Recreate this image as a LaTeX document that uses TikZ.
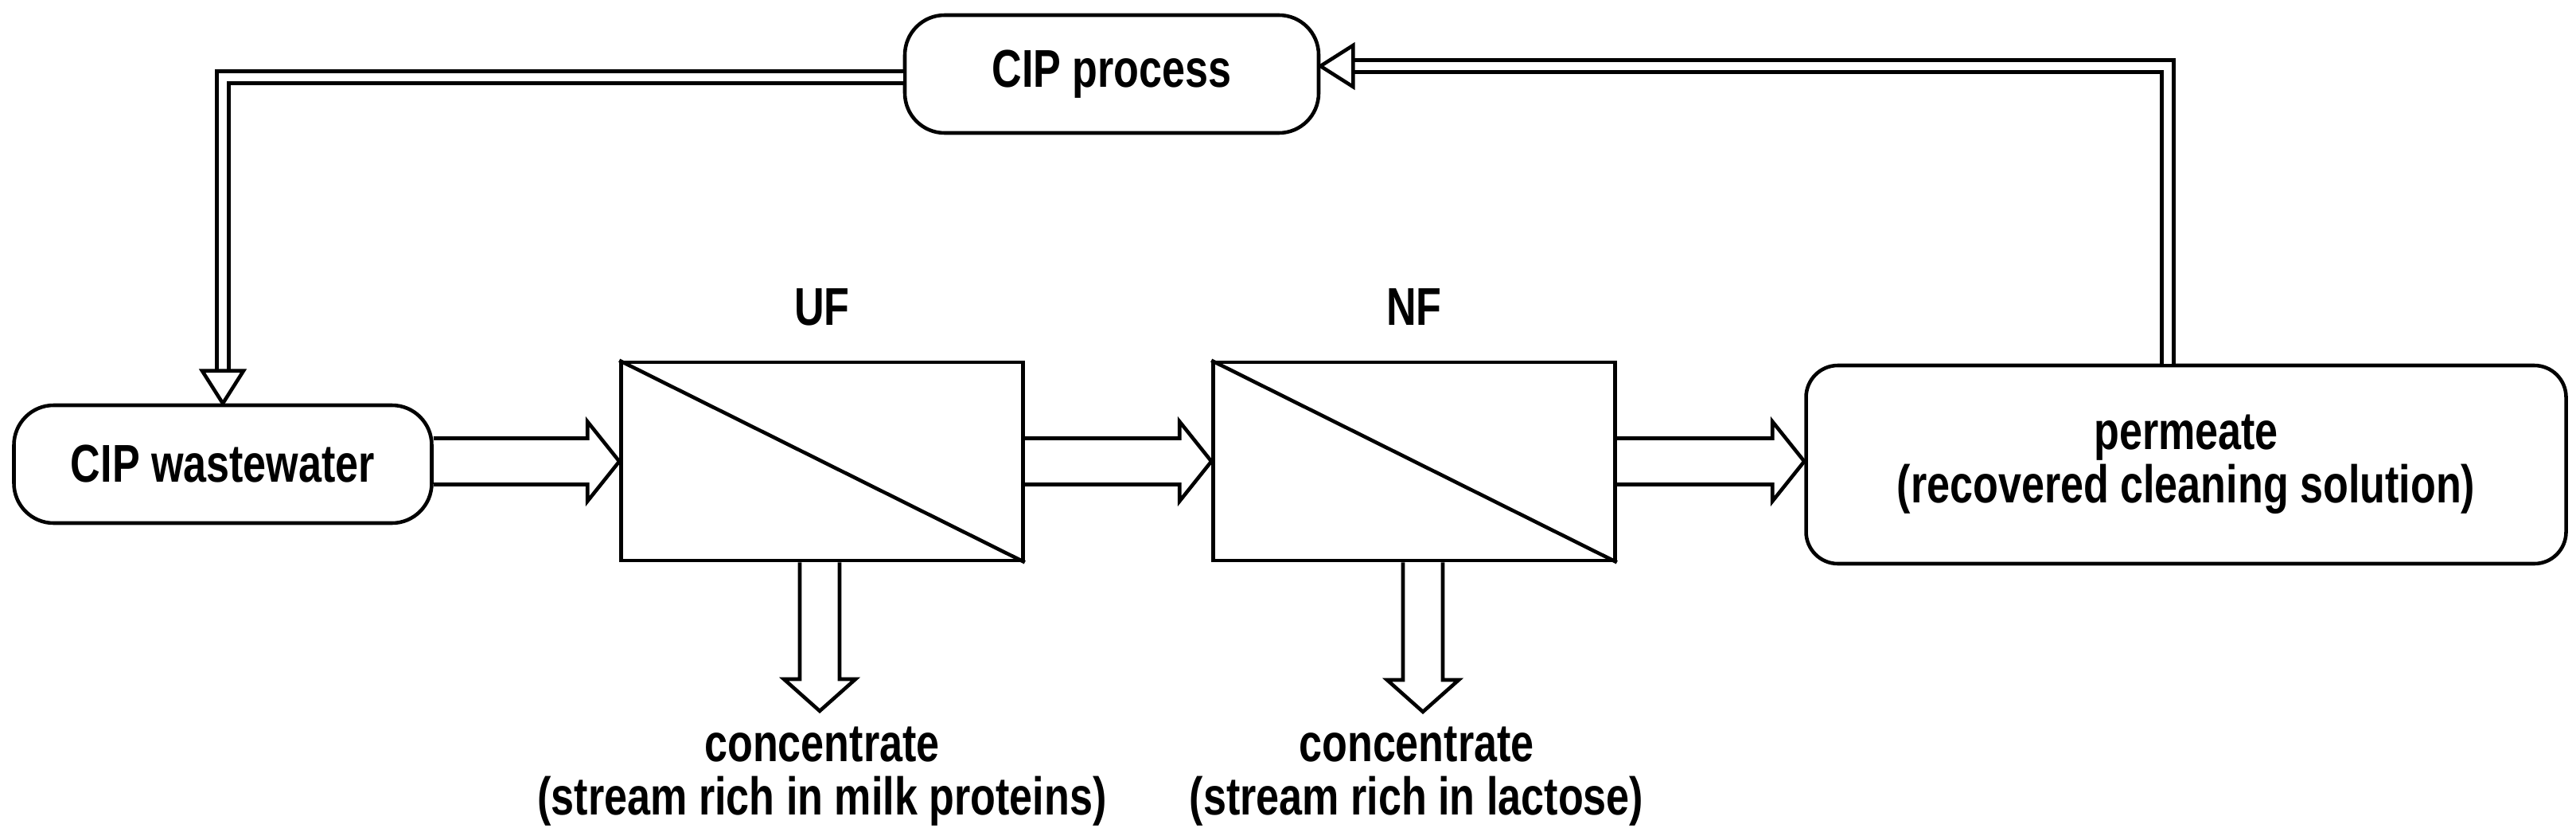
\documentclass[tikz,border=0pt]{standalone}
\usepackage{fontspec}
\setmainfont{Liberation Sans}[FakeStretch=0.78]
\usetikzlibrary{arrows.meta, positioning, calc}

% frecce larghe (contorno) e punte vuote
\newcommand{\hflow}[2]{\draw let \p1=(#1), \p2=(#2) in
	(\x1,\y1+0.29cm) -- (\x2-0.4cm,\y1+0.29cm) -- (\x2-0.4cm,\y1+0.5cm) -- (\x2,\y1)
	-- (\x2-0.4cm,\y1-0.5cm) -- (\x2-0.4cm,\y1-0.29cm) -- (\x1,\y1-0.29cm);}
\newcommand{\dflow}[2]{\draw let \p1=(#1), \p2=(#2) in
	(\x1-0.25cm,\y1) -- (\x1-0.25cm,\y2+0.4cm) -- (\x1-0.45cm,\y2+0.4cm) -- (\x1,\y2)
	-- (\x1+0.45cm,\y2+0.4cm) -- (\x1+0.25cm,\y2+0.4cm) -- (\x1+0.25cm,\y1);}
\newcommand{\hollowtip}[2]{\draw[fill=white, shift={(#1)}, rotate=#2]
	(0,0) -- (-0.41,0.26) -- (-0.41,-0.26) -- cycle;}

\begin{document}
\begin{tikzpicture}[line width=1.3pt,
			font=\bfseries\fontsize{19}{19}\selectfont,
			pill/.style={draw, rounded corners=0.5cm, minimum width=5.2cm, minimum height=1.48cm},
			unit/.style={draw, minimum width=5.05cm, minimum height=2.49cm},
			loop/.style={double, double distance=0.1cm}]
			
			\useasboundingbox (0,0) rectangle (32.37,10.44);
			
			% Nodi
			\node[pill] (proc) at (13.97,9.51) {CIP process};
			\node[pill, minimum width=5.25cm] (waste) at (2.80,4.61) {CIP wastewater};
			\node[unit] (uf) at (10.33,4.645) {};
			\node[unit] (nf) at (17.77,4.645) {};
			\node[draw, rounded corners=0.4cm, minimum width=9.55cm, minimum height=2.49cm, align=center] (perm) at (27.47,4.605) {permeate\\(recovered cleaning solution)};
			\draw (uf.north west) -- (uf.south east);
			\draw (nf.north west) -- (nf.south east);
			
			% Etichette
			\node[above=0.3cm of uf] (uflab) {UF};
			\node[above=0.3cm of nf] (nflab) {NF};
			\node[align=center] (ufconc) at (10.33,0.69) {concentrate\\(stream rich in milk proteins)};
			\node[align=center] (nfconc) at (17.80,0.69) {concentrate\\(stream rich in lactose)};
			\coordinate (ufout) at (10.30,1.51);
			\coordinate (nfout) at (17.88,1.50);
			
			% Flussi principali
			\hflow{waste.east |- uf.west}{uf.west}
			\hflow{uf.east}{nf.west}
			\hflow{nf.east |- uf.east}{perm.west |- uf.east}
			\dflow{uf.south -| ufout}{ufout}
			\dflow{nf.south -| nfout}{nfout}
			
			% Ricircolo
			\coordinate (backin) at ($(proc.east |- 0,9.61)+(0.41,0)$);
			\coordinate (downin) at ($(waste.north)+(0,0.41)$);
			\draw[loop] (perm.north -| 27.24,0) |- (backin);
			\draw[loop] (proc.west |- 0,9.47) -| (downin);
			\hollowtip{proc.east |- 0,9.61}{180}
			\hollowtip{waste.north}{-90}
		\end{tikzpicture}
\end{document}
